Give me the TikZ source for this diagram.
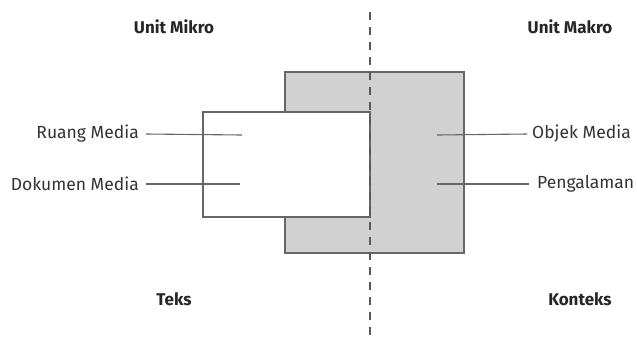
\documentclass[tikz,border=0pt]{standalone}
\usepackage{fontspec}
\setmainfont{Fira Sans}
\begin{document}
\begin{tikzpicture}[x=1pt,y=-1pt,
  lbl/.style={font=\fontsize{17.5}{20}\selectfont, text=black!80, inner sep=1pt},
  head/.style={font=\fontsize{17}{20}\selectfont\bfseries, text=black!85, inner sep=1pt},
  boxline/.style={draw=black!60, line width=1.6pt},
  conn/.style={draw=black!60, line width=1.1pt}]
\useasboundingbox (0,0) rectangle (637,341);
% boxes
\path[boxline, fill=black!18] (285,72) rectangle (464,253);
\path[boxline, fill=white] (203,112) rectangle (370,217);
% dashed divider
\coordinate (dtop) at (370,12);
\coordinate (dbot) at (370,340);
\draw[black!65, line width=1.8pt, dash pattern=on 8pt off 7pt] (dtop) -- (dbot);
% headings
\node[head] (mikro) at (174,27) {Unit Mikro};
\node[head] (makro) at (570,27) {Unit Makro};
\node[head] (teks) at (174,299) {Teks};
\node[head] (konteks) at (580,299) {Konteks};
% labels
\node[lbl, anchor=east] (ruang) at (140,134) {Ruang Media};
\node[lbl, anchor=east] (dokumen) at (140,184) {Dokumen Media};
\node[lbl, anchor=west] (objek) at (531,134) {Objek Media};
\node[lbl, anchor=west] (pengalaman) at (536,184) {Pengalaman};
\coordinate (pr) at (242,135);
\coordinate (pd) at (240,184);
\coordinate (po) at (437,135);
\coordinate (pp) at (437,184);
\draw[conn] (ruang.east) ++(6,0) coordinate (r0) (r0) -- (pr);
\draw[conn] (dokumen.east) ++(6,0) coordinate (d0) (d0) -- (pd);
\draw[conn] (objek.west) ++(-4,0) coordinate (o0) (o0) -- (po);
\draw[conn] (pengalaman.west) ++(-7,0) coordinate (g0) (g0) -- (pp);
\end{tikzpicture}
\end{document}
